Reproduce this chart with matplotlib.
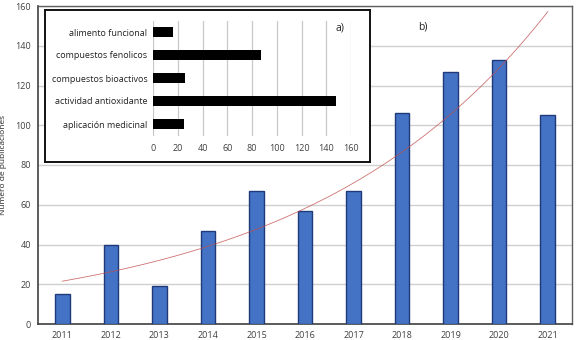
import numpy as np
import matplotlib.pyplot as plt

plt.rcParams['font.family'] = ['Open Sans', 'DejaVu Sans']

# --- datos ---
anios = ['2011', '2012', '2013', '2014', '2015', '2016', '2017', '2018', '2019', '2020', '2021']
publicaciones = [15, 40, 19, 47, 67, 57, 67, 106, 127, 133, 105]

temas = ['aplicación medicinal', 'actividad antioxidante', 'compuestos bioactivos',
         'compuestos fenolicos', 'alimento funcional']
citas_temas = [25, 148, 26, 87, 16]

fig = plt.figure(figsize=(5.77, 3.4), dpi=100)

# ===== grafico b) principal =====
ax = fig.add_axes([38 / 577, 1 - 324 / 340, 534 / 577, 318 / 340])
x = np.arange(len(anios))
ax.bar(x, publicaciones, width=0.3, color='#4472C4', edgecolor='#1F3A7A', linewidth=1.0, zorder=3)

# linea de tendencia exponencial (ajuste sobre los datos)
xi = x + 1
b, a = np.polyfit(xi, np.log(publicaciones), 1)
xs = np.linspace(xi[0], xi[-1], 200)
ax.plot(xs - 1, np.exp(a + b * xs), color='#C0504D', linewidth=0.6, alpha=0.8, zorder=4)

ax.set_xlim(-0.5, len(anios) - 0.5)
ax.set_ylim(0, 160)
ax.set_yticks(range(0, 161, 20))
ax.set_xticks(x)
ax.set_xticklabels(anios)
ax.tick_params(axis='both', length=0, labelsize=6.5, colors='#404040', pad=5)
ax.grid(axis='y', color='#D0D0D0', linewidth=1.0, zorder=0)
for s in ['top', 'right']:
    ax.spines[s].set_color('#606060')
    ax.spines[s].set_linewidth(1.0)
for s in ['left', 'bottom']:
    ax.spines[s].set_color('#404040')
    ax.spines[s].set_linewidth(1.2)
ax.set_ylabel('Número de publicaciones', fontsize=6, color='#222222', labelpad=6)
ax.text(423 / 577, 1 - 27 / 340, 'b)', transform=fig.transFigure, fontsize=7.5,
        ha='center', va='center', color='#222222')

# ===== recuadro a) =====
marco = fig.add_axes([45 / 577, 1 - 162 / 340, 325 / 577, 152 / 340])
marco.set_xticks([])
marco.set_yticks([])
marco.set_facecolor('white')
for s in marco.spines.values():
    s.set_color('#111111')
    s.set_linewidth(1.4)

ax2 = fig.add_axes([153 / 577, 1 - 135.5 / 340, 198 / 577, 115 / 340])
ax2.patch.set_alpha(0)
ax2.barh(np.arange(len(temas)), citas_temas, height=0.45, color='black', zorder=3)
ax2.set_xlim(0, 160)
ax2.set_ylim(-0.5, len(temas) - 0.5)
ax2.set_xticks(range(0, 161, 20))
ax2.set_yticks(np.arange(len(temas)))
ax2.set_yticklabels(temas)
ax2.tick_params(axis='both', length=0, labelsize=6.5, colors='#222222')
ax2.tick_params(axis='x', pad=6, colors='#404040')
ax2.tick_params(axis='y', pad=4)
ax2.grid(axis='x', color='#C8C8C8', linewidth=0.9, zorder=0)
for s in ax2.spines.values():
    s.set_visible(False)
ax2.text(340 / 577, 1 - 28 / 340, 'a)', transform=fig.transFigure, fontsize=7.5,
         ha='center', va='center', color='#222222')

plt.savefig('out.png', dpi=100)
